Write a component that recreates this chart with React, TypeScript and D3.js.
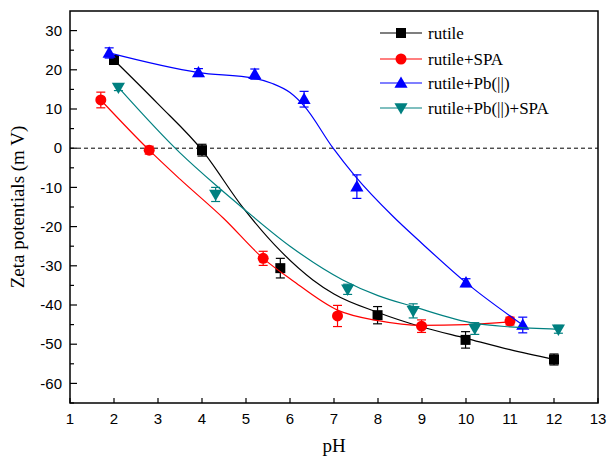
import React from "react";
import * as d3 from "d3";

const width = 608;
const height = 457;
const margin = { top: 11, right: 10, bottom: 54, left: 70 };

// measured points (pH, zeta, error)
const rutilePH = [2.0, 4.0, 5.78, 7.99, 9.99, 12.0];
const rutileZeta = [22.5, -0.5, -30.6, -42.6, -48.9, -53.9];
const rutileErr = [0.8, 1.5, 2.5, 2.2, 2.1, 1.4];

const spaPH = [1.7, 2.8, 5.39, 7.08, 8.99, 11.0];
const spaZeta = [12.3, -0.5, -28.1, -42.8, -45.4, -44.1];
const spaErr = [2.0, 1.0, 1.8, 2.7, 1.6, 1.0];

const pbPH = [1.89, 3.92, 5.2, 6.32, 7.52, 10.0, 11.29];
const pbZeta = [24.3, 19.3, 18.9, 12.5, -9.8, -34.3, -45.1];
const pbErr = [1.3, 1.0, 1.3, 2.0, 3.0, 1.0, 2.0];

const pbSpaPH = [2.1, 4.31, 7.31, 8.8, 10.2, 12.1];
const pbSpaZeta = [15.5, -11.8, -36.0, -41.5, -46.0, -46.2];
const pbSpaErr = [0.8, 1.8, 1.3, 1.8, 1.5, 1.0];

// fitted curves
const rutileFitPH = [2.0, 3.0, 4.0, 4.94, 5.8, 6.52, 7.0, 8.0, 9.0, 10.0, 11.0, 12.0];
const rutileFitZeta = [22.5, 11.3, -0.5, -15.3, -26.4, -33.6, -37.2, -41.9, -45.6, -48.5, -51.4, -53.9];

const spaFitPH = [1.7, 2.8, 3.5, 4.5, 5.39, 6.04, 7.08, 8.0, 9.0, 10.0, 11.0];
const spaFitZeta = [12.3, -0.5, -7.9, -18.0, -28.1, -33.6, -41.3, -44.0, -45.2, -45.0, -44.3];

const pbFitPH = [1.89, 3.92, 5.2, 5.6, 6.0, 6.32, 6.98, 7.47, 8.35, 9.0, 10.0, 11.29];
const pbFitZeta = [24.3, 19.3, 17.8, 16.5, 14.2, 10.8, 0, -7.0, -17.5, -24.3, -34.3, -45.1];

const pbSpaFitPH = [2.1, 3.5, 4.31, 4.93, 6.0, 7.2, 8.0, 8.8, 10.2, 11.0, 12.1];
const pbSpaFitZeta = [15.5, -1.2, -9.4, -15.3, -25.0, -33.6, -37.6, -40.4, -44.7, -45.6, -46.2];

const xTicks = d3.range(1, 14);
const yTicks = d3.range(-60, 31, 10);
const yMinor = d3.range(-65, 35, 10);

const series = [
  { name: "rutile", color: "#000000", shape: "square", ph: rutilePH, zeta: rutileZeta, err: rutileErr, fitPH: rutileFitPH, fitZeta: rutileFitZeta },
  { name: "rutile+SPA", color: "#ff0000", shape: "circle", ph: spaPH, zeta: spaZeta, err: spaErr, fitPH: spaFitPH, fitZeta: spaFitZeta },
  { name: "rutile+Pb(||)", color: "#0000ff", shape: "up", ph: pbPH, zeta: pbZeta, err: pbErr, fitPH: pbFitPH, fitZeta: pbFitZeta },
  { name: "rutile+Pb(||)+SPA", color: "#008080", shape: "down", ph: pbSpaPH, zeta: pbSpaZeta, err: pbSpaErr, fitPH: pbSpaFitPH, fitZeta: pbSpaFitZeta },
];

const Marker = ({ shape, color, x, y }: { shape: string; color: string; x: number; y: number }) => {
  if (shape === "circle") return <circle cx={x} cy={y} r={5.5} fill={color} />;
  if (shape === "square") return <rect x={x - 5} y={y - 5} width={10} height={10} fill={color} />;
  const tri = d3.symbol().type(d3.symbolTriangle).size(75)();
  const rot = shape === "down" ? 180 : 0;
  return <path d={tri || ""} fill={color} transform={`translate(${x},${y + (shape === "down" ? -1 : 1)}) rotate(${rot})`} />;
};

export default function App() {
  const innerWidth = width - margin.left - margin.right;
  const innerHeight = height - margin.top - margin.bottom;

  const xScale = d3.scaleLinear().domain([1, 13]).range([0, innerWidth]);
  const yScale = d3.scaleLinear().domain([-65, 35]).range([innerHeight, 0]);

  const lineGen = d3
    .line<[number, number]>()
    .x((d) => xScale(d[0]))
    .y((d) => yScale(d[1]))
    .curve(d3.curveMonotoneX);

  const legendX = 380 - margin.left;
  const legendRows = [33, 59, 83, 108];

  return (
    <svg width={width} height={height} style={{ position: "absolute", left: 0, top: 0 }}>
      <g transform={`translate(${margin.left},${margin.top})`}>
        {/* zero line */}
        <line x1={0} x2={innerWidth} y1={yScale(0)} y2={yScale(0)} stroke="#000" strokeDasharray="4,3" strokeWidth={1} />

        {series.map((s) => (
          <g key={s.name}>
            <path
              d={lineGen(s.fitPH.map((p, i) => [p, s.fitZeta[i]] as [number, number])) || ""}
              fill="none"
              stroke={s.color}
              strokeWidth={1.2}
            />
            {s.ph.map((p, i) => {
              const x = xScale(p);
              const y1 = yScale(s.zeta[i] + s.err[i]);
              const y2 = yScale(s.zeta[i] - s.err[i]);
              return (
                <g key={i} stroke={s.color} strokeWidth={1.2}>
                  <line x1={x} x2={x} y1={y1} y2={y2} />
                  <line x1={x - 4.5} x2={x + 4.5} y1={y1} y2={y1} />
                  <line x1={x - 4.5} x2={x + 4.5} y1={y2} y2={y2} />
                </g>
              );
            })}
            {s.ph.map((p, i) => (
              <Marker key={i} shape={s.shape} color={s.color} x={xScale(p)} y={yScale(s.zeta[i])} />
            ))}
          </g>
        ))}

        {/* frame */}
        <rect x={0} y={0} width={innerWidth} height={innerHeight} fill="none" stroke="#000" strokeWidth={1.5} />

        {/* x ticks */}
        {xTicks.map((t) => (
          <g key={t}>
            <line x1={xScale(t)} x2={xScale(t)} y1={innerHeight} y2={innerHeight - 5} stroke="#000" strokeWidth={1.2} />
            <text x={xScale(t)} y={innerHeight + 21} textAnchor="middle" fontFamily="'Liberation Sans', Arial, sans-serif" fontSize={15}>
              {t}
            </text>
          </g>
        ))}

        {/* y ticks */}
        {yTicks.map((t) => (
          <g key={t}>
            <line x1={0} x2={7} y1={yScale(t)} y2={yScale(t)} stroke="#000" strokeWidth={1.2} />
            <text x={-8} y={yScale(t)} dy="0.35em" textAnchor="end" fontFamily="'Liberation Sans', Arial, sans-serif" fontSize={15}>
              {t}
            </text>
          </g>
        ))}
        {yMinor.map((t) => (
          <line key={t} x1={0} x2={4} y1={yScale(t)} y2={yScale(t)} stroke="#000" strokeWidth={1.2} />
        ))}

        {/* axis titles */}
        <text x={innerWidth / 2} y={innerHeight + 49} textAnchor="middle" fontFamily="'Liberation Serif', 'Times New Roman', serif" fontSize={19}>
          pH
        </text>
        <text
          transform={`translate(${-46},${innerHeight / 2}) rotate(-90)`}
          textAnchor="middle"
          fontFamily="'Liberation Serif', 'Times New Roman', serif"
          fontSize={19}
        >
          Zeta potentials (m V)
        </text>

        {/* legend */}
        {series.map((s, i) => {
          const y = legendRows[i] - margin.top;
          return (
            <g key={s.name}>
              <line x1={legendX} x2={legendX + 42} y1={y} y2={y} stroke={s.color} strokeWidth={1.2} />
              <Marker shape={s.shape} color={s.color} x={legendX + 21} y={y} />
              <text x={legendX + 48} y={y} dy="0.33em" fontFamily="'Liberation Serif', 'Times New Roman', serif" fontSize={17}>
                {s.name}
              </text>
            </g>
          );
        })}
      </g>
    </svg>
  );
}
